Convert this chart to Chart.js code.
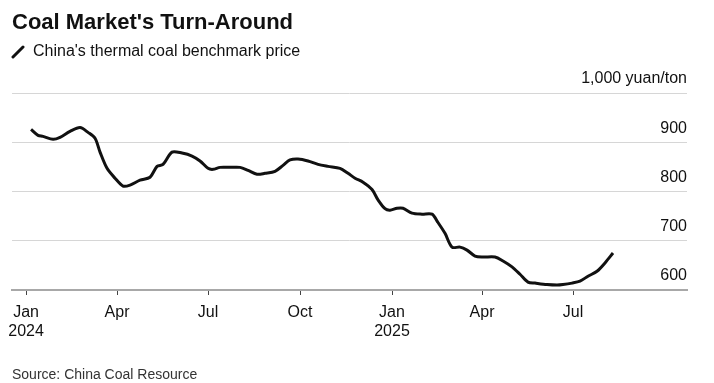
<!DOCTYPE html>
<html>
<head>
<meta charset="utf-8">
<script src="https://cdn.jsdelivr.net/npm/chart.js@4"></script>
<style>
  body { margin: 0; background: #fff; }
  #wrap { position: relative; width: 714px; height: 383px; font-family: "Liberation Sans", Arial, sans-serif; color: #111; }
  #myChart { position: absolute; left: 0; top: 0; }
  .title { position: absolute; left: 12px; top: 11px; font-size: 22px; line-height: 22px; font-weight: bold; }
  .subtitle { position: absolute; left: 33px; top: 43px; font-size: 16px; line-height: 16px; }
  .icon { position: absolute; left: 11px; top: 44px; }
  .source { position: absolute; left: 12px; top: 367px; font-size: 14px; line-height: 14px; color: #333; }
</style>
</head>
<body>
<div id="wrap">
  <canvas id="myChart" width="714" height="383"></canvas>
  <div class="title">Coal Market's Turn-Around</div>
  <svg class="icon" width="16" height="16"><line x1="2" y1="13" x2="12" y2="3" stroke="#111" stroke-width="3" stroke-linecap="round"/></svg>
  <div class="subtitle">China's thermal coal benchmark price</div>
  <div class="source">Source: China Coal Resource</div>
</div>
<script>
// weekly price readings, yuan/ton
const dates = [
  '2024-01-06', '2024-01-13', '2024-01-18', '2024-01-28', '2024-02-04', '2024-02-14', '2024-02-24',
  '2024-03-03', '2024-03-10', '2024-03-15', '2024-03-22', '2024-03-30', '2024-04-07', '2024-04-14',
  '2024-04-24', '2024-05-04', '2024-05-11', '2024-05-17', '2024-05-26', '2024-06-05', '2024-06-15',
  '2024-06-23', '2024-07-01', '2024-07-06', '2024-07-13', '2024-07-23', '2024-08-02', '2024-08-10',
  '2024-08-19', '2024-08-27', '2024-09-06', '2024-09-14', '2024-09-21', '2024-09-29', '2024-10-09',
  '2024-10-19', '2024-10-29', '2024-11-10', '2024-11-18', '2024-11-25', '2024-12-03', '2024-12-12',
  '2024-12-18', '2024-12-25', '2024-12-30', '2025-01-06', '2025-01-12', '2025-01-21', '2025-01-31',
  '2025-02-10', '2025-02-16', '2025-02-23', '2025-03-02', '2025-03-10', '2025-03-17', '2025-03-25',
  '2025-04-02', '2025-04-14', '2025-04-22', '2025-05-01', '2025-05-09', '2025-05-17', '2025-05-24',
  '2025-06-05', '2025-06-15', '2025-06-21', '2025-06-30', '2025-07-08', '2025-07-16', '2025-07-25',
  '2025-08-02', '2025-08-10'
];
const prices = [
  926, 914, 912, 906, 910, 922, 930,
  920, 908, 880, 847, 827, 811, 813,
  823, 829, 851, 855, 880, 878, 872,
  862, 847, 845, 849, 849, 849, 843,
  835, 837, 841, 853, 864, 866, 862,
  855, 851, 847, 837, 827, 819, 804,
  783, 765, 762, 766, 766, 756, 754,
  754, 737, 715, 687, 687, 681, 669,
  667, 667, 659, 647, 632, 616, 614,
  611, 610, 611, 614, 618, 628, 638,
  655, 675
];
const tickDates = ['2024-01-01', '2024-04-01', '2024-07-01', '2024-10-01', '2025-01-01', '2025-04-01', '2025-07-01'];
const tickLabels = [['Jan', '2024'], 'Apr', 'Jul', 'Oct', ['Jan', '2025'], 'Apr', 'Jul'];
const yTicks = [600, 700, 800, 900, 1000];
const unitLabel = '1,000 yuan/ton';

const base = Date.UTC(2024, 0, 1);
const toDay = s => {
  const [y, m, d] = s.split('-').map(Number);
  return Math.round((Date.UTC(y, m - 1, d) - base) / 86400000);
};
const tickDays = tickDates.map(toDay);
const points = dates.map((d, i) => ({ x: toDay(d), y: prices[i] }));

const font = { family: '"Liberation Sans", Arial, sans-serif', size: 16 };

const ctx = document.getElementById('myChart');
new Chart(ctx, {
  type: 'line',
  data: {
    datasets: [{
      data: points,
      borderColor: '#111',
      borderWidth: 3,
      pointRadius: 0,
      tension: 0.3
    }]
  },
  options: {
    responsive: false,
    animation: false,
    layout: { padding: { left: 12, right: 27, top: 93, bottom: 43 } },
    plugins: { legend: { display: false }, tooltip: { enabled: false } },
    scales: {
      x: {
        type: 'linear',
        min: -14,
        max: 661,
        afterBuildTicks: scale => { scale.ticks = tickDays.map(v => ({ value: v })); },
        afterFit: scale => { scale.height = 50; },
        ticks: {
          autoSkip: false,
          maxRotation: 0,
          padding: 8,
          color: '#111',
          font: { ...font, lineHeight: 1.2 },
          callback: value => tickLabels[tickDays.indexOf(value)]
        },
        grid: { drawOnChartArea: false, tickLength: 5, tickColor: '#444', tickWidth: 1 },
        border: { color: '#a8a8a8', width: 2 }
      },
      y: {
        position: 'right',
        min: 600,
        max: 1000,
        afterBuildTicks: scale => { scale.ticks = yTicks.map(v => ({ value: v })); },
        afterFit: scale => { scale.width = 0; },
        ticks: {
          mirror: true,
          padding: 0,
          labelOffset: -14,
          color: '#111',
          font: font,
          callback: value => value === 1000 ? unitLabel : value
        },
        grid: { color: '#d6d6d6', lineWidth: 1, drawTicks: false },
        border: { display: false }
      }
    }
  }
});
</script>
</body>
</html>
